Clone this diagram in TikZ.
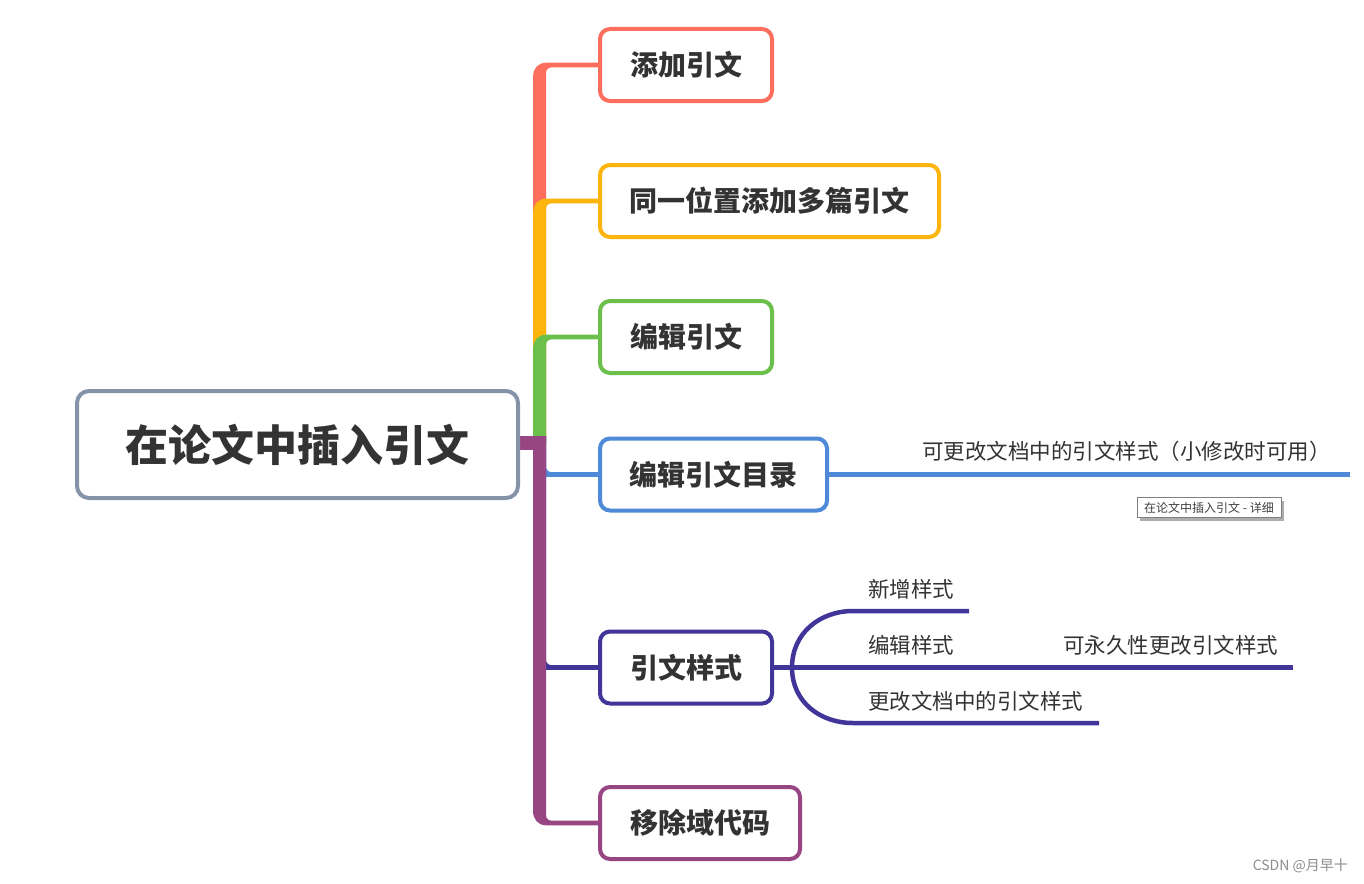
\documentclass[tikz,border=0pt]{standalone}
\usepackage{fontspec}
\setmainfont{Noto Sans CJK SC}
\usetikzlibrary{shadows}
\definecolor{cRed}{HTML}{FE6E5C}
\definecolor{cYel}{HTML}{FDB40C}
\definecolor{cGrn}{HTML}{6BC04C}
\definecolor{cBlu}{HTML}{4E8AD8}
\definecolor{cInd}{HTML}{41359A}
\definecolor{cPur}{HTML}{984584}
\definecolor{cRoot}{HTML}{8593A8}
\definecolor{cTxt}{HTML}{333333}
\newcommand\upbr[2]{%
  \fill[#1] (533,444) -- (533,#2+11) .. controls (533,#2+4) and (538,#2-2.3) .. (546,#2-2.3)
    -- (600,#2-2.3) -- (600,#2+2.3) -- (552,#2+2.3)
    .. controls (548.5,#2+2.3) and (546,#2+4.5) .. (546,#2+8) -- (546,444) -- cycle;}
\newcommand\dnbr[2]{%
  \fill[#1] (533,436) -- (533,#2-12) .. controls (533,#2-4) and (538,#2+2.3) .. (546,#2+2.3)
    -- (600,#2+2.3) -- (600,#2-2.3) -- (552,#2-2.3)
    .. controls (548.5,#2-2.3) and (546,#2-4.5) .. (546,#2-8) -- (546,436) -- cycle;}
\begin{document}
\begin{tikzpicture}[x=1pt,y=-1pt,
  box/.style={draw=#1, line width=4pt, rounded corners=10pt, fill=white, inner sep=0pt,
    text=cTxt, font=\fontsize{28}{32}\selectfont\bfseries, minimum height=72pt},
  leaf/.style={anchor=west, inner sep=0pt, text=cTxt, font=\fontsize{21.5}{24}\selectfont},
  twig/.style={line width=4.5pt, draw=#1},
]
\fill[white] (0,0) rectangle (1364,883);
\useasboundingbox (0,0) rectangle (1364,883);

% branches (trunk)
\upbr{cRed}{65}
\upbr{cYel}{201}
\upbr{cGrn}{337}
\dnbr{cBlu}{474.5}
\dnbr{cInd}{667.5}
\dnbr{cPur}{823}
\fill[cPur] (516,436) rectangle (546,450);

% root
\node[draw=cRoot, line width=4pt, rounded corners=12pt, fill=white, inner sep=0pt,
  minimum width=441pt, minimum height=107pt, text=cTxt,
  font=\fontsize{43}{48}\selectfont\bfseries] (root) at (297.5,444.5) {在论文中插入引文};

% child boxes
\node[box=cRed, minimum width=172pt] (b1) at (686,65) {添加引文};
\node[box=cYel, minimum width=339pt] (b2) at (769.5,201) {同一位置添加多篇引文};
\node[box=cGrn, minimum width=172pt] (b3) at (686,337) {编辑引文};
\node[box=cBlu, minimum width=227pt] (b4) at (713.5,474.5) {编辑引文目录};
\node[box=cInd, minimum width=172pt] (b5) at (686,667.5) {引文样式};
\node[box=cPur, minimum width=200pt] (b6) at (700,823) {移除域代码};

% blue leaf
\coordinate (blEnd) at (1350,474.5);
\draw[twig=cBlu] (b4.east) -- (blEnd);
\node[leaf] (t1) at (922,451) {可更改文档中的引文样式（小修改时可用）};

% indigo leaves
\coordinate (fork) at (792,667.5);
\coordinate (e1) at (969,611);
\coordinate (e2) at (1293,667.5);
\coordinate (e3) at (1099,723);
\draw[twig=cInd] (b5.east) -- (e2);
\draw[twig=cInd] (fork) .. controls (792,633) and (820,611) .. (853,611) -- (e1);
\draw[twig=cInd] (fork) .. controls (792,702) and (820,723) .. (853,723) -- (e3);
\node[leaf] (t2) at (868,589.5) {新增样式};
\node[leaf] (t3) at (868,645) {编辑样式};
\node[leaf] (t4) at (868,701) {更改文档中的引文样式};
\node[leaf] (t5) at (1063,645) {可永久性更改引文样式};

% tooltip
\node[draw=gray, line width=1pt, fill=white, inner sep=0pt, minimum width=144pt, minimum height=20pt,
  text=black!75, font=\fontsize{12}{14}\selectfont,
  drop shadow={shadow xshift=3pt, shadow yshift=-3pt, fill=gray!80, opacity=0.8}] (tip) at (1209,507.5)
  {在论文中插入引文 - 详细};

% watermark
\node[anchor=east, inner sep=0pt, text=black!45, font=\fontsize{14}{16}\selectfont] (wm) at (1348,866) {CSDN @月早十};
\end{tikzpicture}
\end{document}
